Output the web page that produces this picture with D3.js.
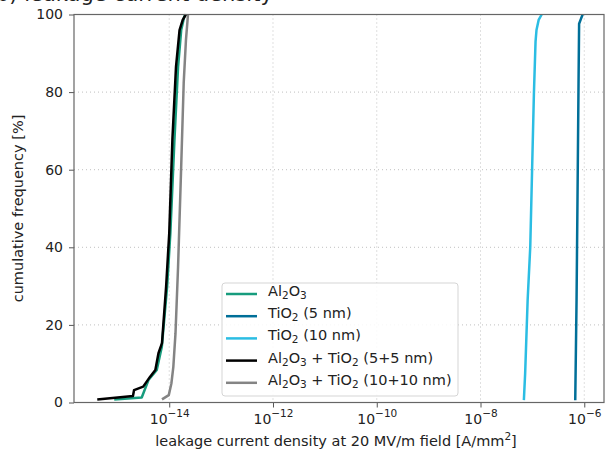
<!DOCTYPE html>
<meta charset="utf-8">
<style>
  body { margin: 0; background: #fff; }
  svg text { font-family: "DejaVu Sans", sans-serif; fill: #222; }
</style>
<body>
<div id="chart"></div>
<script src="https://d3js.org/d3.v7.min.js"></script>
<script>

// Values: [leakage current density (A/mm^2), cumulative frequency (%)]
var al2o3 = [[8.7e-16, 0.8], [2.95e-15, 1.3], [3.98e-15, 5.8], [5.75e-15, 8.4], [7.2e-15, 14.4],
  [9.1e-15, 29.8], [1.05e-14, 43.6], [1.26e-14, 67.7], [1.48e-14, 86.5], [1.7e-14, 96], [1.95e-14, 99.5], [2.1e-14, 100]];
var tio2_5 = [[6.7e-7, 0.6], [7.1e-7, 26.4], [7.4e-7, 52.2], [7.75e-7, 82.3], [7.95e-7, 97.6], [8.7e-7, 99], [9.3e-7, 100]];
var tio2_10 = [[6.85e-8, 0.6], [7.25e-8, 7.5], [8.1e-8, 26.4], [9.1e-8, 40.2], [9.9e-8, 60.8], [1.07e-7, 79.7],
  [1.15e-7, 93], [1.2e-7, 96], [1.32e-7, 98.6], [1.51e-7, 100]];
var al_ti_5 = [[4.1e-16, 0.8], [2.0e-15, 1.7], [2.1e-15, 3.2], [3.15e-15, 4.1], [4.25e-15, 6.6], [5.4e-15, 8.4],
  [6.2e-15, 12.7], [7.25e-15, 15.3], [8.7e-15, 29.8], [1.0e-14, 43.6], [1.15e-14, 67.7], [1.35e-14, 86.5],
  [1.58e-14, 96], [1.82e-14, 98.6], [2.1e-14, 100]];
var al_ti_10 = [[7.25e-15, 0.8], [9.8e-15, 1.9], [1.1e-14, 4.9], [1.2e-14, 9.2], [1.32e-14, 17.8], [1.48e-14, 35],
  [1.7e-14, 60.8], [1.9e-14, 82.3], [2.1e-14, 93.4], [2.3e-14, 100]];

var seriesNames = ["Al2O3", "TiO2 (5 nm)", "TiO2 (10 nm)", "Al2O3 + TiO2 (5+5 nm)", "Al2O3 + TiO2 (10+10 nm)"];
var seriesData = [al2o3, tio2_5, tio2_10, al_ti_5, al_ti_10];
var seriesColors = ["#179c7d", "#006f98", "#2bbde3", "#000000", "#848484"];

var xTicks = [1e-14, 1e-12, 1e-10, 1e-8, 1e-6];
var yTicks = [0, 20, 40, 60, 80, 100];

var W = 606, H = 452;
var margin = {top: 14.5, right: 2, bottom: 49.5, left: 74};
var width = W - margin.left - margin.right,
    height = H - margin.top - margin.bottom;

var svg = d3.select("#chart").append("svg")
  .attr("width", W).attr("height", H);

// title, mostly cut off at the top like in the source figure
svg.append("text")
  .attr("x", -4).attr("y", 1)
  .style("font-size", "21px")
  .text("b) leakage current density");

var g = svg.append("g")
  .attr("transform", "translate(" + margin.left + "," + margin.top + ")");

var x = d3.scaleLog().domain([1.46e-16, 2.4e-6]).range([0, width]);
var y = d3.scaleLinear().domain([0, 100]).range([height, 0]);

// grid
g.append("g").selectAll("line").data(xTicks).join("line")
  .attr("x1", d => x(d)).attr("x2", d => x(d))
  .attr("y1", 0).attr("y2", height)
  .attr("stroke", "#b0b0b0").attr("stroke-width", 0.8).attr("stroke-dasharray", "1,3");
g.append("g").selectAll("line").data(yTicks.slice(1, 5)).join("line")
  .attr("x1", 0).attr("x2", width)
  .attr("y1", d => y(d)).attr("y2", d => y(d))
  .attr("stroke", "#b0b0b0").attr("stroke-width", 0.8).attr("stroke-dasharray", "1,3");

// lines
var line = d3.line().x(d => x(d[0])).y(d => y(d[1]));
g.append("g").selectAll("path").data(seriesData).join("path")
  .attr("d", line)
  .attr("fill", "none")
  .attr("stroke", (d, i) => seriesColors[i])
  .attr("stroke-width", 2.5)
  .attr("stroke-linejoin", "round");

// axes
var xAxis = g.append("g")
  .attr("transform", "translate(0," + height + ")")
  .call(d3.axisBottom(x).tickValues(xTicks).tickSize(5).tickFormat(""));
xAxis.selectAll(".tick text").remove();
xAxis.selectAll(".tick").append("text")
  .attr("y", 21).attr("text-anchor", "middle")
  .style("font-size", "14px")
  .each(function(d) {
    var t = d3.select(this);
    t.append("tspan").text("10");
    t.append("tspan").attr("dy", "-7").style("font-size", "10.5px").text("\u2212" + (-Math.round(Math.log10(d))));
  });

var yAxis = g.append("g")
  .call(d3.axisLeft(y).tickValues(yTicks).tickSize(5).tickPadding(6));
yAxis.selectAll(".tick text").style("font-size", "14px").attr("fill", "#222");

g.selectAll(".domain").attr("stroke", "none");
g.selectAll(".tick line").attr("stroke", "#555").attr("stroke-width", 1);

// frame
g.append("rect")
  .attr("width", width).attr("height", height)
  .attr("fill", "none").attr("stroke", "#666").attr("stroke-width", 1.2);

// axis labels
svg.append("text")
  .attr("x", margin.left + width / 2 - 3).attr("y", 446)
  .attr("text-anchor", "middle").style("font-size", "14.5px")
  .html("leakage current density at 20 MV/m field [A/mm<tspan dy='-6' style='font-size:10.5px'>2</tspan><tspan dy='6'>]</tspan>");
svg.append("text")
  .attr("transform", "translate(23," + (margin.top + height / 2) + ") rotate(-90)")
  .attr("text-anchor", "middle").style("font-size", "14.5px")
  .text("cumulative frequency [%]");

// legend
var leg = svg.append("g").attr("transform", "translate(222,283)");
leg.append("rect")
  .attr("width", 236).attr("height", 113).attr("rx", 3)
  .attr("fill", "#fff").attr("fill-opacity", 0.85)
  .attr("stroke", "#d5d5d5").attr("stroke-width", 1);

// a digit that follows a letter is written as a subscript
function chemLabel(sel, name) {
  var buf = "", sub = false;
  function flush() {
    if (buf === "") return;
    if (sub) {
      sel.append("tspan").attr("dy", 3).style("font-size", "10.5px").text(buf);
    } else {
      sel.append("tspan").attr("dy", sel.selectAll("tspan").size() ? -3 : 0).text(buf);
    }
    buf = "";
  }
  for (var i = 0; i < name.length; i++) {
    var c = name[i];
    var isSub = /\d/.test(c) && i > 0 && /[A-Za-z]/.test(name[i - 1]);
    if (isSub !== sub) { flush(); sub = isSub; }
    buf += c;
  }
  flush();
}

var rows = leg.selectAll("g.row").data(seriesNames).join("g")
  .attr("class", "row")
  .attr("transform", (d, i) => "translate(0," + (11 + i * 22.2) + ")");
rows.append("line")
  .attr("x1", 4).attr("x2", 35)
  .attr("stroke", (d, i) => seriesColors[i]).attr("stroke-width", 2.5);
rows.append("text")
  .attr("x", 46).attr("y", 5)
  .style("font-size", "14.5px")
  .each(function(d) { chemLabel(d3.select(this), d); });

</script>
</body>
